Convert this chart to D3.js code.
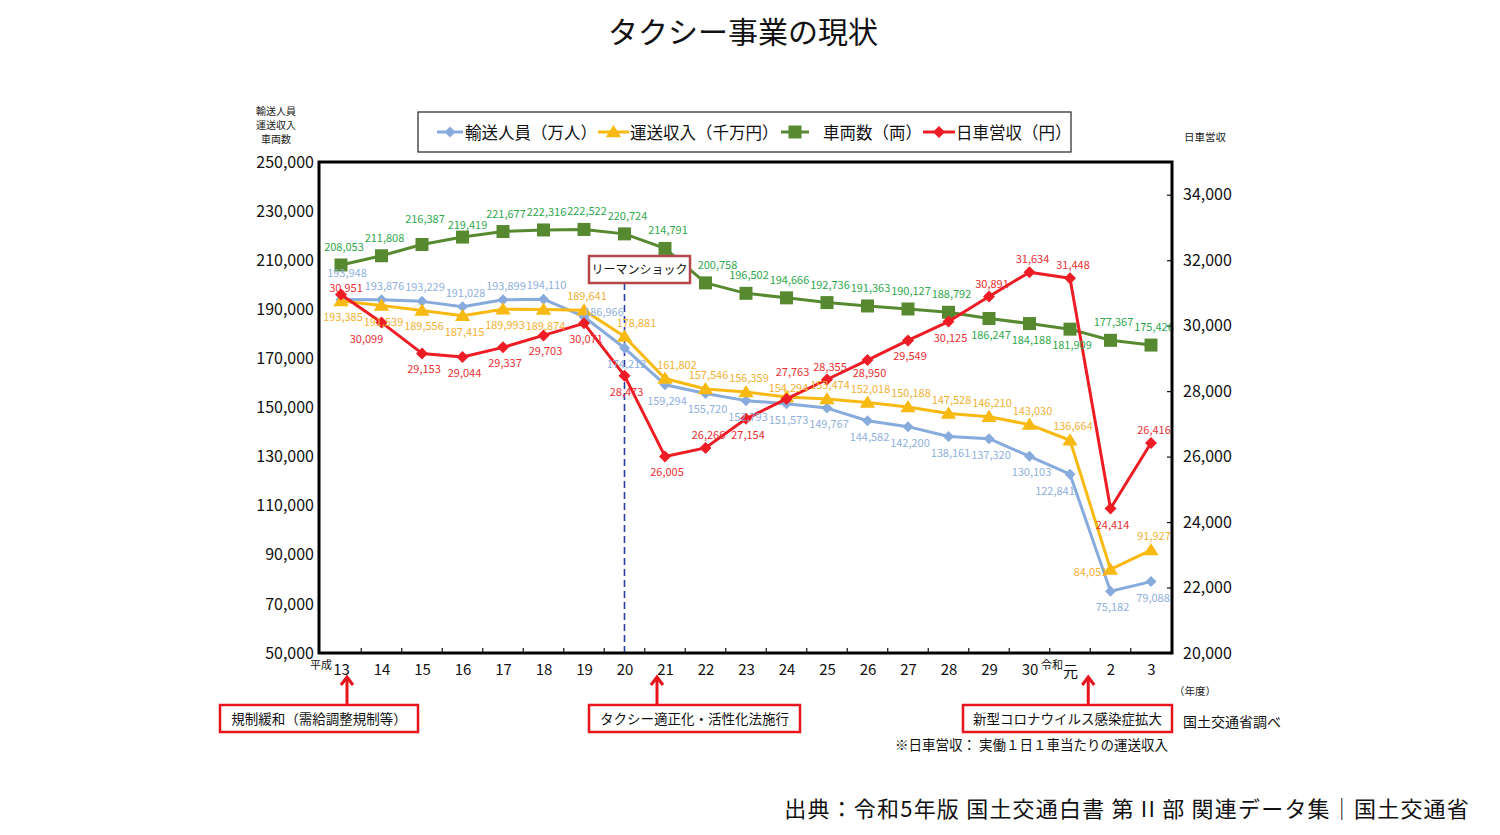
<!DOCTYPE html>
<html><head><meta charset="utf-8">
<script src="https://cdn.jsdelivr.net/npm/d3@7"></script>
<style>
body{margin:0;background:#fff;}
svg{display:block;font-family:"Noto Sans CJK JP","Noto Sans",sans-serif;}
</style></head>
<body>
<svg id="chart" width="1500" height="835"></svg>
<script>
// ---- data ----
const years = ["13","14","15","16","17","18","19","20","21","22","23","24","25","26","27","28","29","30","元","2","3"];
const passengers = [193948,193876,193229,191028,193899,194110,186966,174212,159294,155720,152793,151573,149767,144582,142200,138161,137320,130103,122841,75182,79088];
const revenue = [193385,191539,189556,187415,189993,189874,189641,178881,161802,157546,156359,154294,153474,152018,150188,147528,146210,143030,136664,84051,91927];
const vehicles = [208053,211808,216387,219419,221677,222316,222522,220724,214791,200758,196502,194666,192736,191363,190127,188792,186247,184188,181909,177367,175426];
const dailyRevenue = [30951,30099,29153,29044,29337,29703,30071,28473,26005,26266,27154,27763,28355,28950,29549,30125,30891,31634,31448,24414,26416];
const leftTicks = [50000,70000,90000,110000,130000,150000,170000,190000,210000,230000,250000];
const rightTicks = [20000,22000,24000,26000,28000,30000,32000,34000];
const seriesNames = ["輸送人員（万人）","運送収入（千万円）","車両数（両）","日車営収（円）"];
// label placement codes (t=above, th/tt=higher, tl/tm=lower above, b=below, bs=closer below, r=right, l=left, bl=below-left, tr=above-right)
const passLabelPos = ["tt","t","t","t","t","t","r","b","b","b","b","b","b","b","b","b","b","b","bl","b","b"];
const revLabelPos = ["b","b","b","b","b","b","t","tr","tr","t","t","tm","t","t","t","t","t","t","t","l","t"];
const vehLabelPos = ["t","t","th","tl","t","t","t","t","t","tr","t","t","t","t","t","t","b","b","b","t","t"];
const dailyLabelPos = ["tl","bl","b","b","b","b","b","b","b","t","b","tt","t","bs","b","b","t","t","t","b","t"];

// ---- layout ----
const svg = d3.select("#chart");
const P = {l:319, r:1172, t:162, b:653};
const x = d3.scalePoint().domain(years).range([341,1151]);
const yL = d3.scaleLinear().domain([50000,250000]).range([P.b,P.t]);
const yR = d3.scaleLinear().domain([20000,35000]).range([P.b,P.t]);
const fmt = d3.format(",");

const C = {
  blue:"#87abdc", blueT:"#8fb0de",
  yellow:"#f8b912", yellowT:"#f2b135",
  green:"#578a30", greenT:"#2fa84c",
  red:"#ee1c25", redT:"#ec2f33",
  ann:"#e8141b"
};

// title
svg.append("text").attr("x",743).attr("y",43).attr("text-anchor","middle")
  .attr("font-size",30).attr("fill","#111").text("タクシー事業の現状");

// axis headers
const lh = svg.append("g").attr("font-size",10).attr("fill","#222").attr("text-anchor","middle");
["輸送人員","運送収入","車両数"].forEach((t,i)=>lh.append("text").attr("x",276).attr("y",115+i*14).text(t));
svg.append("text").attr("x",1184).attr("y",141).attr("font-size",10.5).attr("fill","#222").text("日車営収");

// left axis labels
const ga = svg.append("g").attr("transform",`translate(${P.l},0)`)
  .call(d3.axisLeft(yL).tickValues(leftTicks).tickSize(0).tickPadding(5).tickFormat(fmt));
ga.select(".domain").remove();
ga.selectAll("text").attr("font-size",16).attr("fill","#111").attr("font-family","Noto Sans CJK JP");

// right axis
const gr = svg.append("g").attr("transform",`translate(${P.r},0)`)
  .call(d3.axisRight(yR).tickValues(rightTicks).tickSizeInner(-5).tickSizeOuter(0).tickPadding(11).tickFormat(fmt));
gr.select(".domain").remove();
gr.selectAll("line").attr("stroke","#111").attr("stroke-width",1.2);
gr.selectAll("text").attr("font-size",16).attr("fill","#111").attr("font-family","Noto Sans CJK JP");

// bottom axis
const gb = svg.append("g").attr("transform",`translate(0,${P.b})`)
  .call(d3.axisBottom(x).tickSize(0).tickPadding(11));
gb.select(".domain").remove();
gb.selectAll("text").attr("font-size",15).attr("fill","#111").attr("font-family","Noto Sans CJK JP")
  .attr("dy", d => d==="元" ? "0.85em" : "0.71em");
// boundary ticks
const step = x.step();
years.forEach((d,i)=>{
  if(i<years.length-1){
    const xx = x(d)+step/2;
    svg.append("line").attr("x1",xx).attr("x2",xx).attr("y1",P.b).attr("y2",P.b-5)
      .attr("stroke","#111").attr("stroke-width",1.2);
  }
});
svg.append("text").attr("x",x("13")-20).attr("y",669).attr("font-size",11).attr("text-anchor","middle").attr("fill","#111").text("平成");
svg.append("text").attr("x",x("元")-18).attr("y",669).attr("font-size",11).attr("text-anchor","middle").attr("fill","#111").text("令和");
svg.append("text").attr("x",1195).attr("y",695).attr("font-size",10.5).attr("text-anchor","middle").attr("fill","#222").text("（年度）");

// Lehman dashed line
svg.append("line").attr("x1",x("20")).attr("x2",x("20")).attr("y1",283).attr("y2",P.b)
  .attr("stroke","#2b3d9f").attr("stroke-width",1.6).attr("stroke-dasharray","7,4");

// series
const diamond = r => `M0,${-r}L${r},0L0,${r}L${-r},0Z`;
const triangle = r => `M0,${-r}L${r*1.1},${r*0.75}L${-r*1.1},${r*0.75}Z`;
const square = r => `M${-r},${-r}H${r}V${r}H${-r}Z`;

const series = [
  {vals:passengers, y:yL, col:C.blue, tc:C.blueT, shape:diamond(5.5), pos:passLabelPos, tdy:-10},
  {vals:revenue, y:yL, col:C.yellow, tc:C.yellowT, shape:triangle(7), pos:revLabelPos, tdy:-10},
  {vals:vehicles, y:yL, col:C.green, tc:C.greenT, shape:square(6.5), pos:vehLabelPos, tdy:-14},
  {vals:dailyRevenue, y:yR, col:C.red, tc:C.redT, shape:diamond(6), pos:dailyLabelPos, tdy:-9}
];
const offFor = (code, tdy) => ({
  t:[3,tdy], th:[3,tdy-8], tt:[6,-23], tl:[5,tdy+6], tm:[2,-5], b:[2,20], bs:[2,17], r:[20,-1], l:[-20,7], bl:[-15,21], tr:[12,tdy]
})[code];

const gl = svg.append("g");
const gt = svg.append("g");
series.forEach(s=>{
  const pts = s.vals.map((v,i)=>[x(years[i]), s.y(v)]);
  gl.append("path").attr("d",d3.line()(pts)).attr("fill","none").attr("stroke",s.col)
    .attr("stroke-width",3).attr("stroke-linejoin","round");
  pts.forEach(p=>gl.append("path").attr("d",s.shape).attr("transform",`translate(${p[0]},${p[1]})`).attr("fill",s.col));
  s.vals.forEach((v,i)=>{
    const o = offFor(s.pos[i], s.tdy);
    gt.append("text").attr("x",pts[i][0]+o[0]).attr("y",pts[i][1]+o[1]).attr("text-anchor","middle")
      .attr("font-size",11).attr("fill",s.tc).text(fmt(v));
  });
});

// frame
svg.append("rect").attr("x",P.l).attr("y",P.t).attr("width",P.r-P.l).attr("height",P.b-P.t)
  .attr("fill","none").attr("stroke","#000").attr("stroke-width",3);

// Lehman box
svg.append("rect").attr("x",589).attr("y",256).attr("width",101).attr("height",27)
  .attr("fill","#fff").attr("stroke","#b4474a").attr("stroke-width",2.5);
svg.append("text").attr("x",639.5).attr("y",274).attr("text-anchor","middle").attr("font-size",12).attr("fill","#111").text("リーマンショック");

// legend
svg.append("rect").attr("x",418).attr("y",112).attr("width",653).attr("height",40)
  .attr("fill","#fff").attr("stroke","#222").attr("stroke-width",1.2);
const legItems = [
  {x0:437, x1:463, tx:465, s:series[0]},
  {x0:598, x1:629, tx:630, s:series[1]},
  {x0:781, x1:809, tx:823, s:series[2]},
  {x0:923, x1:955, tx:956, s:series[3]}
];
legItems.forEach((it,i)=>{
  svg.append("line").attr("x1",it.x0).attr("x2",it.x1).attr("y1",132).attr("y2",132).attr("stroke",it.s.col).attr("stroke-width",3);
  svg.append("path").attr("d",it.s.shape).attr("transform",`translate(${(it.x0+it.x1)/2},132)`).attr("fill",it.s.col);
  svg.append("text").attr("x",it.tx).attr("y",138.5).attr("font-size",16.5).attr("fill","#111").text(seriesNames[i]);
});

// annotations
function arrow(ax, yTop, yBot){
  svg.append("line").attr("x1",ax).attr("x2",ax).attr("y1",yBot).attr("y2",yTop+2).attr("stroke",C.ann).attr("stroke-width",3);
  svg.append("path").attr("d",`M${ax-6},${yTop+8}L${ax},${yTop}L${ax+6},${yTop+8}`).attr("fill","none")
    .attr("stroke",C.ann).attr("stroke-width",3).attr("stroke-linejoin","miter");
}
function box(x0,w,label){
  svg.append("rect").attr("x",x0).attr("y",705).attr("width",w).attr("height",27)
    .attr("fill","#fff").attr("stroke",C.ann).attr("stroke-width",2.5);
  svg.append("text").attr("x",x0+w/2).attr("y",723.5).attr("text-anchor","middle").attr("font-size",13.5).attr("fill","#111").text(label);
}
arrow(x("13")+6, 677, 705);
arrow(x("21")-8, 677, 705);
arrow((x("元")+x("2"))/2-2, 677, 705);
box(220,198,"規制緩和（需給調整規制等）");
box(589,211,"タクシー適正化・活性化法施行");
box(963,209,"新型コロナウイルス感染症拡大");

svg.append("text").attr("x",1183).attr("y",727).attr("font-size",14).attr("fill","#111").text("国土交通省調べ");
svg.append("text").attr("x",895).attr("y",750).attr("font-size",13.5).attr("fill","#111").text("※日車営収： 実働１日１車当たりの運送収入");

svg.append("text").attr("x",1470).attr("y",817).attr("text-anchor","end").attr("font-size",22).attr("letter-spacing",1.2).attr("fill","#111")
  .text("出典：令和5年版 国土交通白書 第 II 部 関連データ集｜国土交通省");
</script>
</body></html>
